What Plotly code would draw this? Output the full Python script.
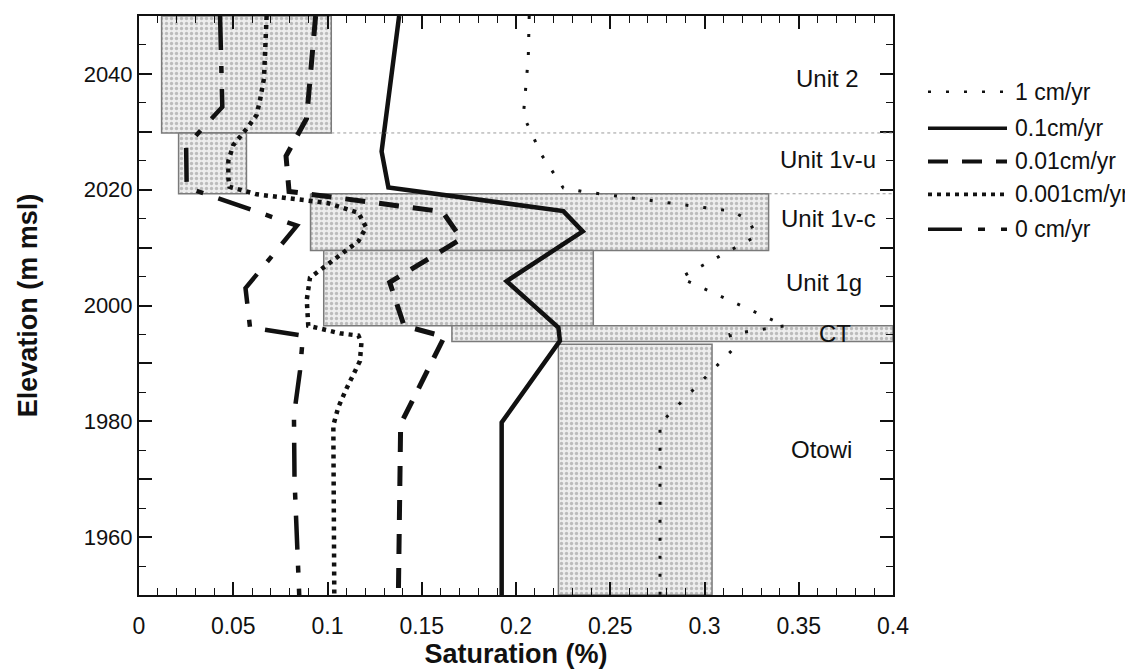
import plotly.graph_objects as go

# ---------------- data ----------------
series_names = ["1 cm/yr", "0.1cm/yr", "0.01cm/yr", "0.001cm/yr", "0 cm/yr"]

sat_1 = [0.207, 0.2065, 0.2039, 0.2136, 0.2251, 0.2349, 0.3144, 0.3233, 0.3277, 0.287, 0.3427, 0.3135, 0.3153, 0.2764, 0.2764]
elev_1 = [2050, 2042.7, 2032.8, 2026, 2020.3, 2019.7, 2016.3, 2014.8, 2012, 2004.8, 1996.5, 1995, 1992.5, 1979.6, 1950]

sat_01 = [0.138, 0.1287, 0.1323, 0.2251, 0.2354, 0.195, 0.2225, 0.2233, 0.1924, 0.1924]
elev_01 = [2050, 2026.6, 2020.4, 2016.3, 2012.8, 2004.2, 1996.2, 1993.9, 1979.8, 1950]

sat_001 = [0.0937, 0.0889, 0.078, 0.0796, 0.161, 0.171, 0.133, 0.1406, 0.162, 0.1388, 0.1376]
elev_001 = [2050, 2032.3, 2025.8, 2019.7, 2016.2, 2011.5, 2004.0, 1996.5, 1994.6, 1979.5, 1950]

sat_0001 = [0.0677, 0.0663, 0.0642, 0.0624, 0.058, 0.05, 0.0474, 0.0474, 0.048, 0.0625, 0.1, 0.1164, 0.1205,
            0.1164, 0.1058, 0.096, 0.0907, 0.089, 0.0898, 0.1066, 0.1164, 0.118, 0.1172, 0.110, 0.1057, 0.1031, 0.1036]
elev_0001 = [2050, 2039.2, 2035.5, 2032.9, 2030.9, 2027.7, 2025, 2022, 2020.5, 2019.2, 2017.7, 2016, 2013.5,
             2011.1, 2008.5, 2006.2, 2004.8, 2001, 1996.5, 1995.2, 1994.8, 1993.6, 1990.4, 1985.6, 1982.4, 1979.3, 1950]

sat_0 = [0.043, 0.0442, 0.025, 0.0253, 0.0838, 0.0565, 0.0589, 0.087, 0.0854, 0.0822, 0.0825, 0.085]
elev_0 = [2050, 2034.3, 2027.5, 2020.4, 2013.8, 2003, 1996.2, 1994.8, 1988.7, 1981, 1970, 1950]

unit_names = ["Unit 2", "Unit 1v-u", "Unit 1v-c", "Unit 1g", "CT", "Otowi"]
unit_top = [2050, 2029.8, 2019.3, 2009.5, 1996.5, 1993.3]
unit_bottom = [2029.8, 2019.3, 2009.5, 1996.5, 1993.8, 1950]
box_left = [0.012, 0.021, 0.091, 0.098, 0.166, 0.2225]
box_right = [0.102, 0.057, 0.334, 0.241, 0.4, 0.304]

x_tickvals = [0, 0.05, 0.1, 0.15, 0.2, 0.25, 0.3, 0.35, 0.4]
x_ticktext = ["0", "0.05", "0.1", "0.15", "0.2", "0.25", "0.3", "0.35", "0.4"]
y_tickvals = [1950, 1960, 1970, 1980, 1990, 2000, 2010, 2020, 2030, 2040, 2050]
y_ticktext = ["", "1960", "", "1980", "", "2000", "", "2020", "", "2040", ""]

# ---------------- styling ----------------
FONT = "Liberation Sans, Arial, sans-serif"
INK = "#111111"
label_x = [0.3655, 0.3655, 0.3657, 0.3636, 0.3692, 0.3623]
label_y = [2039.2, 2025.2, 2015.1, 2003.9, 1995.1, 1975.1]

styles = [
    dict(width=3, dash="3px,15px"),
    dict(width=4.5, dash="solid"),
    dict(width=5, dash="20px,14px"),
    dict(width=4.5, dash="4px,5px"),
    dict(width=4.5, dash="34px,16px,7px,16px"),
]

# figure geometry (page body adds an 8px offset)
W, H = 1125, 663
L, R, T, B = 131, 240, 6, 76
PW, PH = W - L - R, H - T - B

fig = go.Figure()

# lithology boxes (stippled)
for i, name in enumerate(unit_names):
    xs = [box_left[i], box_right[i], box_right[i], box_left[i], box_left[i]]
    ys = [unit_top[i], unit_top[i], unit_bottom[i], unit_bottom[i], unit_top[i]]
    fig.add_trace(go.Scatter(
        x=xs, y=ys, mode="lines", fill="toself",
        fillcolor="#e4e4e4",
        fillpattern=dict(shape=".", fgcolor="#8a8a8a", bgcolor="#ededed", size=5, solidity=0.35),
        line=dict(color="#7a7a7a", width=1.5),
        hoverinfo="skip", showlegend=False,
    ))

# faint unit boundary lines
fig.add_shape(type="line", x0=box_right[0], x1=0.4, y0=unit_bottom[0], y1=unit_bottom[0],
              xref="x", yref="y", line=dict(color="#9a9a9a", width=1, dash="dot"))
fig.add_shape(type="line", x0=box_right[2], x1=0.4, y0=unit_top[2], y1=unit_top[2],
              xref="x", yref="y", line=dict(color="#9a9a9a", width=1, dash="dot"))

all_x = [sat_1, sat_01, sat_001, sat_0001, sat_0]
all_y = [elev_1, elev_01, elev_001, elev_0001, elev_0]
for i, name in enumerate(series_names):
    fig.add_trace(go.Scatter(
        x=all_x[i], y=all_y[i], mode="lines", name=name,
        line=dict(color=INK, width=styles[i]["width"], dash=styles[i]["dash"]),
        showlegend=False,
    ))

# unit labels
for i, name in enumerate(unit_names):
    fig.add_annotation(x=label_x[i], y=label_y[i], text=name, showarrow=False,
                       font=dict(family=FONT, size=24, color=INK), xref="x", yref="y")

# manual legend (right side), positions in page pixels
leg_rows = [90, 126.7, 160, 193, 228]


def px_x(p):
    return (p - 8 - L) / PW


def px_y(p):
    return (H - B - (p - 8)) / PH


for i, name in enumerate(series_names):
    fig.add_shape(type="line", xref="paper", yref="paper",
                  x0=px_x(928), x1=px_x(1007), y0=px_y(leg_rows[i]), y1=px_y(leg_rows[i]),
                  line=dict(color=INK, width=styles[i]["width"] * 0.8, dash=styles[i]["dash"]))
    fig.add_annotation(xref="paper", yref="paper", x=px_x(1013), y=px_y(leg_rows[i]),
                       text=name, showarrow=False, xanchor="left", yanchor="middle",
                       font=dict(family=FONT, size=23, color=INK))

fig.update_layout(
    width=W, height=H,
    margin=dict(l=L, r=R, t=T, b=B),
    paper_bgcolor="white", plot_bgcolor="white",
    showlegend=False,
    font=dict(family=FONT, color=INK),
)
fig.update_xaxes(
    range=[0, 0.4], tickvals=x_tickvals, ticktext=x_ticktext,
    ticks="inside", ticklen=13, tickwidth=1.5, tickcolor=INK,
    minor=dict(dtick=0.01, ticks="inside", ticklen=7, tickwidth=1.2, tickcolor=INK, showgrid=False),
    showline=True, linecolor=INK, linewidth=2, mirror="ticks",
    showgrid=False, zeroline=False,
    tickfont=dict(family=FONT, size=23, color=INK), ticklabelstandoff=9,
    title=dict(text="<b>Saturation (%)</b>", font=dict(family=FONT, size=27, color=INK), standoff=4),
)
fig.update_yaxes(
    range=[1950, 2050], tickvals=y_tickvals, ticktext=y_ticktext,
    ticks="inside", ticklen=13, tickwidth=1.5, tickcolor=INK,
    minor=dict(dtick=5, ticks="inside", ticklen=7, tickwidth=1.2, tickcolor=INK, showgrid=False),
    showline=True, linecolor=INK, linewidth=2, mirror="ticks",
    showgrid=False, zeroline=False,
    tickfont=dict(family=FONT, size=22, color=INK), ticklabelstandoff=0,
    title=dict(text="<b>Elevation (m msl)</b>", font=dict(family=FONT, size=27, color=INK), standoff=38),
)

fig.write_html("out.html")
